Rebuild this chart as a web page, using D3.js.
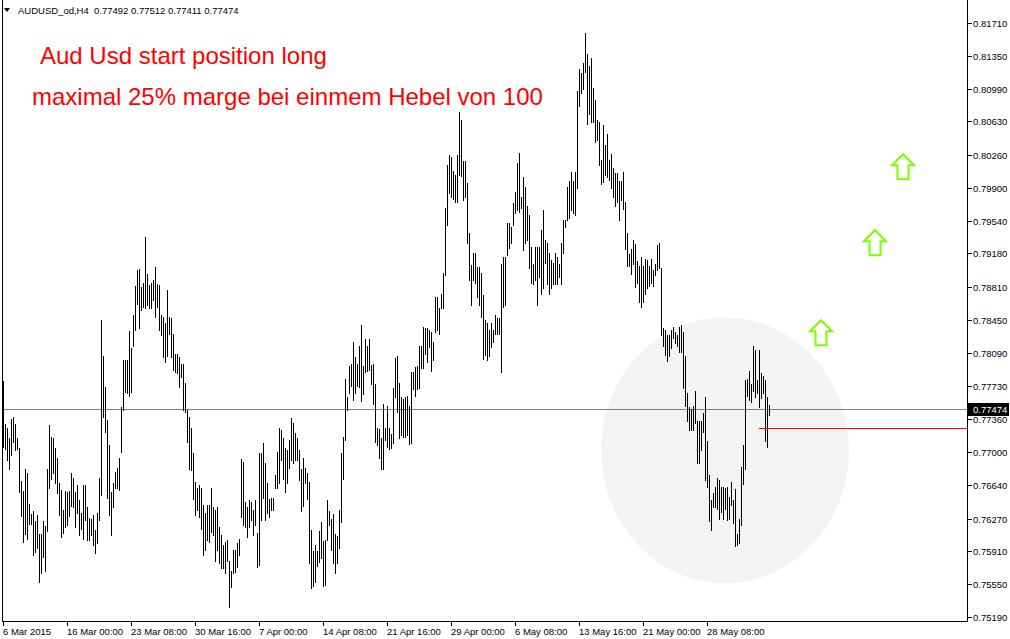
<!DOCTYPE html>
<html><head><meta charset="utf-8">
<script src="https://cdn.jsdelivr.net/npm/d3@7"></script>
<style>html,body{margin:0;padding:0;background:#fff;overflow:hidden;} svg{display:block;}</style>
</head><body>
<svg id="chart" width="1010" height="639"></svg>
<script>
// ---------- data ----------
const symbolInfo = "AUDUSD_od,H4";
const lastOHLC = [0.77492, 0.77512, 0.77411, 0.77474];

const highs = [
0.7778,0.7731,0.7726,0.7716,0.7736,0.7738,0.7731,0.7715,0.7705,0.7668,
0.7657,0.7681,0.7677,0.7643,0.7632,0.7635,0.7624,0.7631,0.7610,0.7610,
0.7624,0.7619,0.7682,0.7730,0.7717,0.7716,0.7705,0.7693,0.7666,0.7658,
0.7636,0.7657,0.7656,0.7657,0.7677,0.7672,0.7656,0.7664,0.7647,0.7633,
0.7664,0.7664,0.7640,0.7628,0.7627,0.7631,0.7614,0.7633,0.7672,0.7845,
0.7806,0.7771,0.7735,0.7708,0.7656,0.7666,0.7678,0.7683,0.7693,0.7750,
0.7801,0.7801,0.7801,0.7833,0.7814,0.7850,0.7882,0.7900,0.7901,0.7881,
0.7886,0.7936,0.7896,0.7883,0.7886,0.7889,0.7903,0.7885,0.7883,0.7850,
0.7848,0.7842,0.7878,0.7848,0.7847,0.7830,0.7808,0.7808,0.7804,0.7797,
0.7797,0.7776,0.7746,0.7738,0.7727,0.7699,0.7667,0.7661,0.7664,0.7661,
0.7642,0.7633,0.7642,0.7642,0.7661,0.7640,0.7636,0.7640,0.7618,0.7609,
0.7598,0.7601,0.7603,0.7581,0.7570,0.7592,0.7592,0.7600,0.7605,0.7692,
0.7689,0.7645,0.7640,0.7647,0.7645,0.7636,0.7647,0.7611,0.7699,0.7699,
0.7710,0.7688,0.7666,0.7649,0.7650,0.7650,0.7675,0.7700,0.7726,0.7724,
0.7715,0.7705,0.7702,0.7713,0.7737,0.7732,0.7721,0.7716,0.7702,0.7681,
0.7694,0.7683,0.7677,0.7667,0.7615,0.7591,0.7598,0.7591,0.7613,0.7623,
0.7602,0.7603,0.7647,0.7635,0.7627,0.7632,0.7610,0.7608,0.7636,0.7699,
0.7717,0.7780,0.7760,0.7795,0.7797,0.7821,0.7804,0.7797,0.7816,0.7840,
0.7794,0.7824,0.7816,0.7824,0.7796,0.7797,0.7775,0.7726,0.7725,0.7715,
0.7753,0.7726,0.7751,0.7726,0.7720,0.7770,0.7803,0.7805,0.7776,0.7760,
0.7758,0.7760,0.7762,0.7751,0.7788,0.7788,0.7793,0.7794,0.7816,0.7816,
0.7837,0.7836,0.7836,0.7834,0.7832,0.7821,0.7870,0.7870,0.7858,0.7874,
0.7897,0.7968,0.8015,0.8026,0.8024,0.8009,0.8004,0.8026,0.8073,0.8064,
0.8020,0.8020,0.7995,0.7940,0.7905,0.7918,0.7918,0.7903,0.7903,0.7897,
0.7872,0.7845,0.7842,0.7834,0.7842,0.7834,0.7850,0.7847,0.7847,0.7907,
0.7914,0.7914,0.7951,0.7952,0.7947,0.7973,0.7985,0.8017,0.8028,0.7980,
0.8002,0.7991,0.7970,0.7960,0.7925,0.7907,0.7925,0.7925,0.7925,0.7944,
0.7966,0.7933,0.7930,0.7918,0.7911,0.7908,0.7919,0.7914,0.7907,0.7929,
0.7955,0.7955,0.7991,0.7998,0.8007,0.7998,0.8007,0.8096,0.8121,0.8116,
0.8127,0.8160,0.8137,0.8124,0.8133,0.8100,0.8086,0.8065,0.8062,0.8021,
0.8059,0.8037,0.8049,0.8021,0.8027,0.8012,0.8006,0.8006,0.7998,0.7998,
0.8007,0.7975,0.7941,0.7917,0.7923,0.7933,0.7928,0.7910,0.7904,0.7914,
0.7904,0.7912,0.7911,0.7904,0.7912,0.7900,0.7907,0.7927,0.7929,0.7902,
0.7836,0.7834,0.7829,0.7829,0.7834,0.7837,0.7832,0.7829,0.7837,0.7839,
0.7832,0.7806,0.7765,0.7749,0.7747,0.7751,0.7767,0.7734,0.7734,0.7734,
0.7743,0.7761,0.7712,0.7675,0.7647,0.7655,0.7662,0.7672,0.7669,0.7662,
0.7662,0.7661,0.7662,0.7651,0.7667,0.7647,0.7659,0.7610,0.7627,0.7684,
0.7708,0.7779,0.7780,0.7789,0.7775,0.7817,0.7812,0.7779,0.7812,0.7787,
0.7784,0.7779,0.7761,0.77512
];

const lows = [
0.7706,0.7703,0.7691,0.7682,0.7697,0.7711,0.7702,0.7703,0.7656,0.7630,
0.7601,0.7610,0.7605,0.7621,0.7621,0.7587,0.7590,0.7595,0.7557,0.7567,
0.7585,0.7570,0.7613,0.7661,0.7671,0.7677,0.7666,0.7655,0.7631,0.7607,
0.7611,0.7618,0.7620,0.7630,0.7641,0.7640,0.7618,0.7633,0.7609,0.7616,
0.7605,0.7625,0.7603,0.7603,0.7609,0.7598,0.7589,0.7600,0.7625,0.7653,
0.7738,0.7722,0.7650,0.7631,0.7609,0.7640,0.7661,0.7661,0.7658,0.7700,
0.7746,0.7766,0.7765,0.7762,0.7766,0.7817,0.7834,0.7863,0.7836,0.7856,
0.7859,0.7858,0.7861,0.7858,0.7858,0.7867,0.7848,0.7859,0.7834,0.7828,
0.7804,0.7799,0.7806,0.7830,0.7804,0.7790,0.7788,0.7787,0.7771,0.7782,
0.7746,0.7744,0.7711,0.7682,0.7680,0.7649,0.7631,0.7636,0.7629,0.7616,
0.7587,0.7592,0.7603,0.7601,0.7612,0.7609,0.7581,0.7592,0.7578,0.7573,
0.7573,0.7567,0.7581,0.7530,0.7552,0.7567,0.7568,0.7574,0.7587,0.7629,
0.7620,0.7618,0.7607,0.7618,0.7625,0.7609,0.7620,0.7574,0.7576,0.7625,
0.7650,0.7625,0.7633,0.7629,0.7636,0.7636,0.7661,0.7661,0.7666,0.7691,
0.7671,0.7656,0.7666,0.7683,0.7691,0.7688,0.7691,0.7691,0.7669,0.7635,
0.7641,0.7666,0.7649,0.7578,0.7551,0.7553,0.7557,0.7575,0.7579,0.7584,
0.7553,0.7554,0.7603,0.7620,0.7593,0.7578,0.7567,0.7578,0.7595,0.7623,
0.7670,0.7713,0.7746,0.7765,0.7773,0.7757,0.7765,0.7773,0.7771,0.7756,
0.7764,0.7788,0.7789,0.7790,0.7775,0.7753,0.7711,0.7708,0.7694,0.7681,
0.7682,0.7713,0.7706,0.7703,0.7705,0.7710,0.7760,0.7744,0.7716,0.7719,
0.7717,0.7717,0.7719,0.7709,0.7710,0.7769,0.7762,0.7769,0.7770,0.7792,
0.7792,0.7808,0.7799,0.7815,0.7789,0.7801,0.7832,0.7834,0.7830,0.7858,
0.7858,0.7894,0.7949,0.7984,0.7980,0.7978,0.7974,0.7974,0.8004,0.8003,
0.7977,0.7980,0.7929,0.7889,0.7861,0.7889,0.7886,0.7870,0.7861,0.7848,
0.7802,0.7807,0.7801,0.7806,0.7815,0.7821,0.7830,0.7830,0.7830,0.7788,
0.7859,0.7861,0.7916,0.7924,0.7930,0.7949,0.7962,0.7966,0.7963,0.7968,
0.7922,0.7930,0.7933,0.7902,0.7886,0.7885,0.7889,0.7861,0.7892,0.7874,
0.7880,0.7908,0.7885,0.7874,0.7880,0.7885,0.7885,0.7885,0.7892,0.7885,
0.7919,0.7947,0.7955,0.7957,0.7966,0.7962,0.7960,0.7990,0.8080,0.8094,
0.8099,0.8117,0.8060,0.8071,0.8062,0.8062,0.8040,0.8043,0.8015,0.7994,
0.7996,0.8004,0.8002,0.7999,0.7990,0.7980,0.7970,0.7974,0.7955,0.7977,
0.7967,0.7923,0.7904,0.7904,0.7895,0.7907,0.7881,0.7886,0.7865,0.7859,
0.7865,0.7874,0.7880,0.7882,0.7886,0.7882,0.7894,0.7900,0.7902,0.7829,
0.7816,0.7807,0.7800,0.7806,0.7814,0.7825,0.7820,0.7817,0.7810,0.7810,
0.7770,0.7751,0.7734,0.7724,0.7724,0.7724,0.7732,0.7688,0.7688,0.7702,
0.7722,0.7669,0.7662,0.7624,0.7615,0.7640,0.7640,0.7637,0.7627,0.7634,
0.7627,0.7637,0.7625,0.7627,0.7642,0.7622,0.7597,0.7598,0.7600,0.7620,
0.7665,0.7682,0.7762,0.7757,0.7755,0.7767,0.7761,0.7765,0.7749,0.7759,
0.7765,0.7712,0.7706,0.77411
];

const priceTicks = [0.81710,0.81350,0.80990,0.80630,0.80260,0.79900,0.79540,0.79180,0.78810,
  0.78450,0.78090,0.77730,0.77360,0.77000,0.76640,0.76270,0.75910,0.75550,0.75190];
const timeTickIndex = [0,32,64,96,128,160,192,224,256,288,320,352];
const timeTickLabels = ["6 Mar 2015","16 Mar 00:00","23 Mar 08:00","30 Mar 16:00","7 Apr 00:00",
  "14 Apr 08:00","21 Apr 16:00","29 Apr 00:00","6 May 08:00","13 May 16:00","21 May 00:00","28 May 08:00"];

// chart objects (bar index / price)
const arrowIndex = [409, 436, 450];
const arrowPrice = [0.78447, 0.79435, 0.80270];
const redLineStartIndex = 378;
const redLinePrice = 0.77262;
const ellipseIndexRange = [299, 423];
const ellipsePriceRange = [0.75560, 0.78480];
const noteTexts = ["Aud Usd start position long", "maximal 25% marge bei einmem Hebel von 100"];

// ---------- drawing ----------
const svg = d3.select("#chart");
const W = 1010, H = 639;
const axisX = 967, bottomY = 621;
const x = d3.scaleLinear().domain([0, 383]).range([3, 769]);
const y = d3.scaleLinear().domain([0.75190, 0.81710]).range([617, 23]);
const font = "Tahoma, 'Liberation Sans', Arial, sans-serif";

svg.append("rect").attr("width", W).attr("height", H).attr("fill", "#fff");

// ellipse highlight
svg.append("ellipse")
  .attr("cx", (x(ellipseIndexRange[0]) + x(ellipseIndexRange[1])) / 2)
  .attr("cy", (y(ellipsePriceRange[0]) + y(ellipsePriceRange[1])) / 2)
  .attr("rx", (x(ellipseIndexRange[1]) - x(ellipseIndexRange[0])) / 2)
  .attr("ry", (y(ellipsePriceRange[0]) - y(ellipsePriceRange[1])) / 2)
  .attr("fill", "#f3f3f3");

// last price line
const lastY = Math.round(y(lastOHLC[3])) + 0.5;
svg.append("line").attr("x1", 2).attr("x2", axisX).attr("y1", lastY).attr("y2", lastY)
  .attr("stroke", "#708090").attr("stroke-width", 1);

// bars
const bars = highs.map((h, i) => ({i, h, l: lows[i]}));
svg.append("g").attr("shape-rendering", "crispEdges").selectAll("rect").data(bars).join("rect")
  .attr("x", d => Math.round(x(d.i)))
  .attr("y", d => Math.round(y(d.h)))
  .attr("width", 1)
  .attr("height", d => Math.max(1, Math.round(y(d.l)) - Math.round(y(d.h)) + 1))
  .attr("fill", "#000");

// red level line
const redY = Math.round(y(redLinePrice)) + 0.5;
svg.append("line").attr("x1", x(redLineStartIndex)).attr("x2", axisX).attr("y1", redY).attr("y2", redY)
  .attr("stroke", "#ff0000").attr("stroke-width", 1);

// arrows
const arrowPath = "M0,0 L11,11 L5.5,11 L5.5,25 L-5.5,25 L-5.5,11 L-11,11 Z";
svg.append("g").selectAll("path").data(arrowIndex).join("path")
  .attr("transform", (d, k) => `translate(${x(d)},${y(arrowPrice[k])})`)
  .attr("d", arrowPath)
  .attr("fill", "#fff").attr("stroke", "#7cfc00").attr("stroke-width", 2)
  .attr("stroke-linejoin", "miter");

// notes
svg.append("text").attr("x", 40).attr("y", 64).text(noteTexts[0])
  .attr("font-family", "'Liberation Sans', Arial, sans-serif").attr("font-size", 24).attr("fill", "#ff0000");
svg.append("text").attr("x", 32).attr("y", 105).text(noteTexts[1])
  .attr("font-family", "'Liberation Sans', Arial, sans-serif").attr("font-size", 24).attr("fill", "#ff0000");

// frame
const frame = svg.append("g").attr("shape-rendering", "crispEdges");
frame.append("line").attr("x1", 2.5).attr("x2", 2.5).attr("y1", 0).attr("y2", bottomY + 0.5).attr("stroke", "#000");
frame.append("line").attr("x1", axisX + 0.5).attr("x2", axisX + 0.5).attr("y1", 0).attr("y2", bottomY + 0.5).attr("stroke", "#000");
frame.append("line").attr("x1", 2).attr("x2", axisX + 1).attr("y1", bottomY + 0.5).attr("y2", bottomY + 0.5).attr("stroke", "#000");

// price axis
const pa = svg.append("g");
priceTicks.forEach(p => {
  const py = Math.round(y(p)) + 0.5;
  pa.append("line").attr("x1", axisX + 1).attr("x2", axisX + 5).attr("y1", py).attr("y2", py)
    .attr("stroke", "#000").attr("shape-rendering", "crispEdges");
  pa.append("text").attr("x", 973).attr("y", py).attr("dy", "0.35em").text(p.toFixed(5))
    .attr("font-family", font).attr("font-size", 9.5).attr("fill", "#000");
});

// last price box
pa.append("rect").attr("x", 968).attr("y", lastY - 6.5).attr("width", 41).attr("height", 13).attr("fill", "#000");
pa.append("text").attr("x", 973).attr("y", lastY).attr("dy", "0.35em").text(lastOHLC[3].toFixed(5))
  .attr("font-family", font).attr("font-size", 9.5).attr("fill", "#fff");

// time axis
const ta = svg.append("g");
timeTickIndex.forEach((idx, k) => {
  const tx = Math.round(x(idx)) + 0.5;
  ta.append("line").attr("x1", tx).attr("x2", tx).attr("y1", bottomY).attr("y2", bottomY + 5)
    .attr("stroke", "#000").attr("shape-rendering", "crispEdges");
  ta.append("text").attr("x", tx - 0.5).attr("y", 635).text(timeTickLabels[k])
    .attr("font-family", font).attr("font-size", 9.5).attr("fill", "#000");
});

// header
svg.append("path").attr("d", "M4,8 L10,8 L7,12 Z").attr("fill", "#000");
svg.append("text").attr("x", 18).attr("y", 14)
  .text(symbolInfo + "  " + lastOHLC.map(v => v.toFixed(5)).join(" "))
  .attr("font-family", font).attr("font-size", 9.5).attr("fill", "#000").attr("xml:space", "preserve")
  .style("white-space", "pre");
</script>
</body></html>
